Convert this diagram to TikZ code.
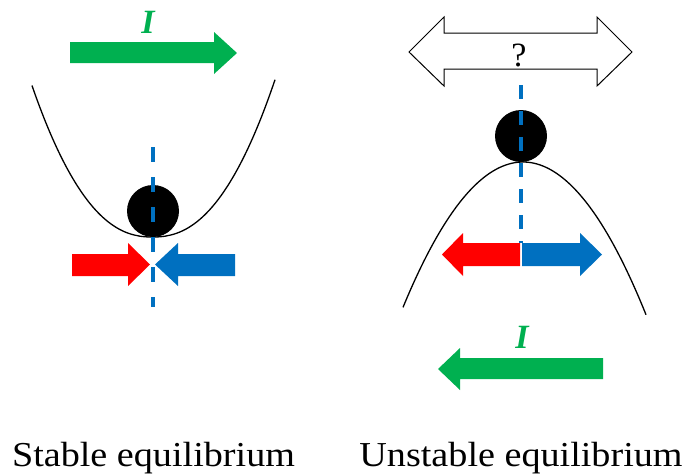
\documentclass[tikz,border=0pt]{standalone}
\usepackage{fontspec}
\setmainfont{Liberation Serif}
\definecolor{mygreen}{HTML}{00B050}
\definecolor{myred}{HTML}{FF0000}
\definecolor{myblue}{HTML}{0070C0}
\begin{document}
\begin{tikzpicture}[x=1pt,y=-1pt,
  curve/.style={line width=1.3pt, black},
  guide/.style={myblue, line width=4pt, dash pattern=on 15pt off 15pt},
  guideR/.style={myblue, line width=4pt, dash pattern=on 14pt off 12pt},
  ball/.style={circle, fill=black, inner sep=0pt, minimum size=52pt},
  caption/.style={font=\fontsize{35}{40}\selectfont, anchor=base, inner sep=0pt},
  curr/.style={font=\fontsize{34}{40}\selectfont\bfseries\itshape, text=mygreen, inner sep=0pt, anchor=base},
  outline/.style={draw=black, line width=1pt, fill=white}]
\useasboundingbox (0,0) rectangle (693,475);

% ---------- left: stable ----------
\node[curr] (IL) at (148,33) {I};
\fill[mygreen] (70,42) -- (214,42) -- (214,32) -- (237,53) -- (214,74) -- (214,63) -- (70,63) -- cycle;

\draw[curve] plot[domain=-120.5:122.5, samples=121, smooth]
  ({152.5+\x}, {237-150*((abs(\x)+0.0001)/120)^2.3});
\node[ball] (ballL) at (153,211) {};

\fill[myred] (72,254) -- (128,254) -- (128,243) -- (150,264.5) -- (128,286) -- (128,276) -- (72,276) -- cycle;
\fill[myblue] (235,254) -- (178,254) -- (178,243) -- (155,264.5) -- (178,286) -- (178,276) -- (235,276) -- cycle;

\coordinate (gLt) at (152.5,147);
\coordinate (gLb) at (152.5,307);
\draw[guide] (gLt) -- (gLb);

\node[caption] (capL) at (153.5,466) {\scalebox{1.09}[1]{Stable equilibrium}};

% ---------- right: unstable ----------
\draw[outline] (409,52) -- (444,17) -- (444,33) -- (597,33) -- (597,17) -- (632,52)
  -- (597,86) -- (597,69) -- (444,69) -- (444,86) -- cycle;
\node[font=\fontsize{34}{40}\selectfont, anchor=base, inner sep=0pt] (q) at (519,66) {?};

\draw[curve] plot[domain=-120:123, samples=121, smooth]
  ({523+\x}, {162+149*(\x/121.5)*(\x/121.5)});
\node[ball] (ballR) at (521,136) {};

\fill[myred] (520,243) -- (463,243) -- (463,233) -- (442,254.5) -- (463,276) -- (463,266) -- (520,266) -- cycle;
\fill[myblue] (522,243) -- (580,243) -- (580,233) -- (602,254.5) -- (580,276) -- (580,266) -- (522,266) -- cycle;

\coordinate (gRt) at (520.5,85);
\coordinate (gRb) at (520.5,243);
\draw[guideR] (gRt) -- (gRb);

\node[curr] (IR) at (522,348) {I};
\fill[mygreen] (603,358) -- (460,358) -- (460,348) -- (438,369) -- (460,390) -- (460,379) -- (603,379) -- cycle;

\node[caption] (capR) at (521,466) {\scalebox{1.09}[1]{Unstable equilibrium}};
\end{tikzpicture}
\end{document}
